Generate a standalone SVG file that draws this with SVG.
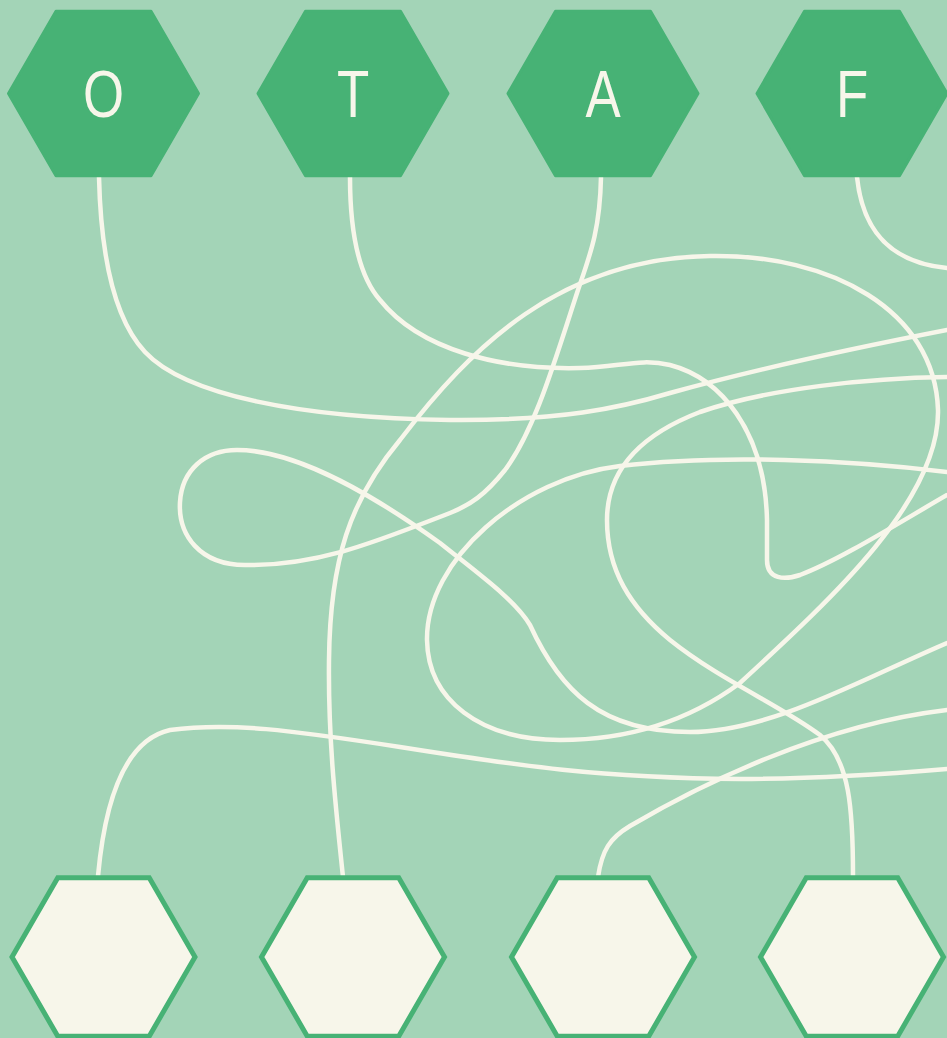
<svg xmlns="http://www.w3.org/2000/svg" width="947" height="1038" viewBox="0 0 947 1038">
<style>
.bg{fill:#a3d4b7}
.top{fill:#47b275;stroke:#47b275;stroke-width:3;stroke-linejoin:round}
.bot{fill:#f7f6ea;stroke:#47b275;stroke-width:5}
.lbl{font-family:"Liberation Sans",Arial,sans-serif;font-size:66px;fill:#f7f6ea;text-anchor:middle}
.wire{fill:none;stroke:#f7f6ea;stroke-width:4.5;stroke-linecap:round}
</style>
<defs>
<polygon id="hexT" points="-95,0 -47.5,-82.27 47.5,-82.27 95,0 47.5,82.27 -47.5,82.27"/>
<polygon id="hexB" points="-91.5,0 -45.75,-79.24 45.75,-79.24 91.5,0 45.75,79.24 -45.75,79.24"/>
</defs>
<rect class="bg" x="0" y="0" width="947" height="1038"/>
<g id="connectors">
<path class="wire" d="M99,177 C101,260 115,320 145,352 C185,395 300,418 450,420 C560,421 620,408 670,393 C760,368 870,345 947,330"/>
<path class="wire" d="M350,177 C350,230 358,275 380,300 C420,350 500,370 580,368 C620,367 640,358 670,365 C720,378 765,430 767,520 L767,560 C767,580 785,580 800,575 C840,560 900,522 947,495"/>
<path class="wire" d="M601,177 C600,230 590,255 578,290 C555,360 535,430 505,470 C485,495 470,505 450,513 C380,540 320,566 245,565 C200,565 178,535 180,502 C182,470 205,450 237,450 C300,450 380,500 440,543 C480,575 515,600 530,625 C560,690 600,732 690,732 C770,732 860,680 947,643"/>
<path class="wire" d="M857,177 C862,225 885,262 947,268"/>
<path class="wire" d="M98,876 C105,800 125,740 170,730 C230,722 290,730 400,747 C520,766 600,778 740,779 C820,779 900,773 947,769"/>
<path class="wire" d="M343,877 C336,810 328,740 329,660 C330,560 350,500 400,440 C470,348 560,258 710,256 C830,254 935,310 938,410 C940,500 830,600 740,683 C690,720 630,740 560,740 C480,740 428,700 427,640 C426,560 520,478 620,466 C720,454 850,460 947,472"/>
<path class="wire" d="M598,877 C602,850 610,838 630,826 C700,785 820,725 947,710"/>
<path class="wire" d="M853,876 C853,810 850,760 820,735 C780,705 720,680 670,640 C630,607 607,570 607,520 C607,470 640,435 700,412 C770,388 870,378 947,377"/>
</g>
<g id="node-O"><use href="#hexT" class="top" x="103.5" y="93.5"/><text class="lbl" transform="translate(103.5,117) scale(0.8,1)">O</text></g>
<g id="node-T"><use href="#hexT" class="top" x="353" y="93.5"/><text class="lbl" transform="translate(353,117) scale(0.8,1)">T</text></g>
<g id="node-A"><use href="#hexT" class="top" x="603" y="93.5"/><text class="lbl" transform="translate(603,117) scale(0.8,1)">A</text></g>
<g id="node-F"><use href="#hexT" class="top" x="852" y="93.5"/><text class="lbl" transform="translate(852,117) scale(0.8,1)">F</text></g>
<g id="node-B1"><use href="#hexB" class="bot" x="103.5" y="957"/></g>
<g id="node-B2"><use href="#hexB" class="bot" x="353" y="957"/></g>
<g id="node-B3"><use href="#hexB" class="bot" x="603" y="957"/></g>
<g id="node-B4"><use href="#hexB" class="bot" x="852" y="957"/></g>
</svg>
